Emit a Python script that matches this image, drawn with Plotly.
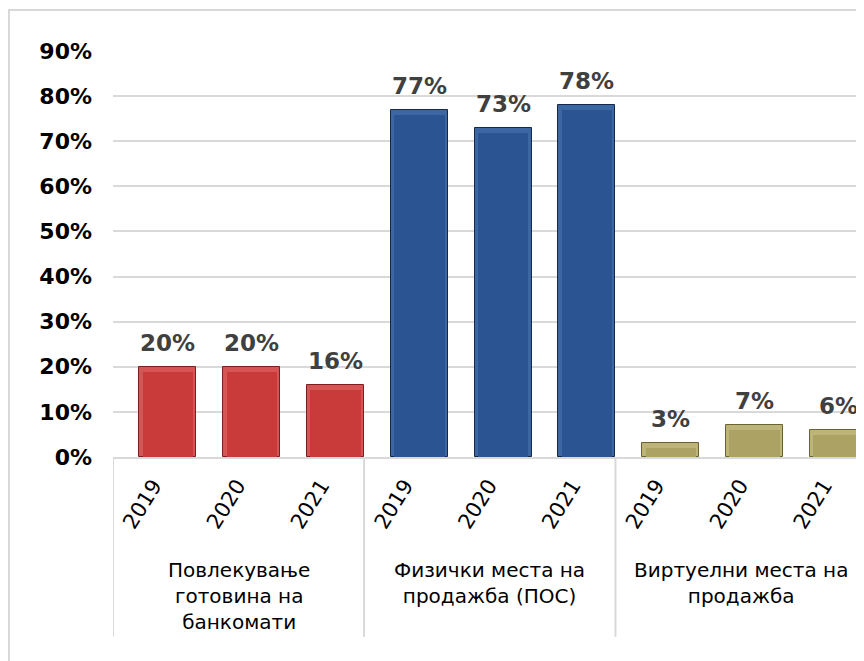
import plotly.graph_objects as go

# ---- data ----
groups = ["Повлекување<br>готовина на<br>банкомати",
          "Физички места на<br>продажба (ПОС)",
          "Виртуелни места на<br>продажба"]
years = ["2019", "2020", "2021"]
atm_values = [0.20, 0.20, 0.16]
pos_values = [0.77, 0.73, 0.78]
online_values = [0.03, 0.07, 0.06]
y_ticks = [0.0, 0.1, 0.2, 0.3, 0.4, 0.5, 0.6, 0.7, 0.8, 0.9]

series = [atm_values, pos_values, online_values]
fills = ["#C93B3B", "#2A5592", "#ABA263"]
bevels = ["#D65554", "#3D67A2", "#BDB47A"]
edges = ["#7A1F1F", "#14294A", "#6A6330"]

BAR_W = 0.68
INNER_W = 0.60
BEVEL_TOP = 0.011
X_MIN, X_MAX = -0.656, 8.306
LABEL_SHIFT = 0.17

fig = go.Figure()
annotations = []
shapes = []
idx = 0
for g, vals in enumerate(series):
    xs = list(range(idx, idx + len(vals)))
    fig.add_trace(go.Bar(
        x=xs, y=vals, width=BAR_W,
        marker=dict(color=bevels[g], line=dict(color=edges[g], width=1)),
        cliponaxis=False, showlegend=False, hoverinfo="skip"))
    fig.add_trace(go.Bar(
        x=xs, y=[max(v - BEVEL_TOP, 0) for v in vals], width=INNER_W,
        marker=dict(color=fills[g], line=dict(width=0)),
        cliponaxis=False, showlegend=False, hoverinfo="skip"))
    for x, v in zip(xs, vals):
        annotations.append(dict(
            x=x, y=v, xref="x", yref="y", text=f"{round(v*100)}%",
            showarrow=False, yanchor="bottom", yshift=9,
            font=dict(family="DejaVu Sans", size=23, color="#404040", weight="bold")))
    idx += len(vals)

# group separators and labels
seps = [X_MIN]
idx = 0
for vals in series:
    idx += len(vals)
    seps.append(idx - 1 + BAR_W / 2)
for s in seps:
    shapes.append(dict(type="line", xref="x", yref="paper", x0=s, x1=s,
                       y0=0, y1=-0.443, line=dict(color="#D9D9D9", width=2)))
for g, name in enumerate(groups):
    cx = (seps[g] + min(seps[g + 1], X_MAX + 0.03)) / 2
    annotations.append(dict(
        x=cx, y=-0.245, xref="x", yref="paper", text=name, showarrow=False,
        yanchor="top", xanchor="center", align="center",
        font=dict(family="DejaVu Sans", size=20, color="#000000")))

# outer border
shapes.append(dict(type="rect", xref="paper", yref="paper",
                   x0=-0.1385, x1=1.05, y0=-0.52, y1=1.101,
                   line=dict(color="#D9D9D9", width=2), fillcolor="rgba(0,0,0,0)",
                   layer="below"))

ticktext = years * len(series)
fig.update_layout(
    width=856, height=653,
    margin=dict(l=105, r=0, t=43, b=204),
    paper_bgcolor="white", plot_bgcolor="white",
    bargap=0, barmode="overlay",
    xaxis=dict(range=[X_MIN, X_MAX],
               tickvals=[i - LABEL_SHIFT for i in range(len(ticktext))],
               ticktext=ticktext, tickangle=-58, showgrid=False, zeroline=False,
               showline=True, linecolor="#D9D9D9", linewidth=2, ticks="",
               ticklabelstandoff=6,
               tickfont=dict(family="DejaVu Sans", size=21, color="#000000")),
    yaxis=dict(range=[0, 0.9], tickvals=y_ticks, tickformat=".0%",
               showgrid=True, gridcolor="#D9D9D9", gridwidth=2, zeroline=False,
               showline=False, ticks="", ticklabelstandoff=20,
               tickfont=dict(family="DejaVu Sans", size=22, color="#000000", weight="bold")),
    annotations=annotations,
    shapes=shapes,
)

fig.write_html("out.html")
